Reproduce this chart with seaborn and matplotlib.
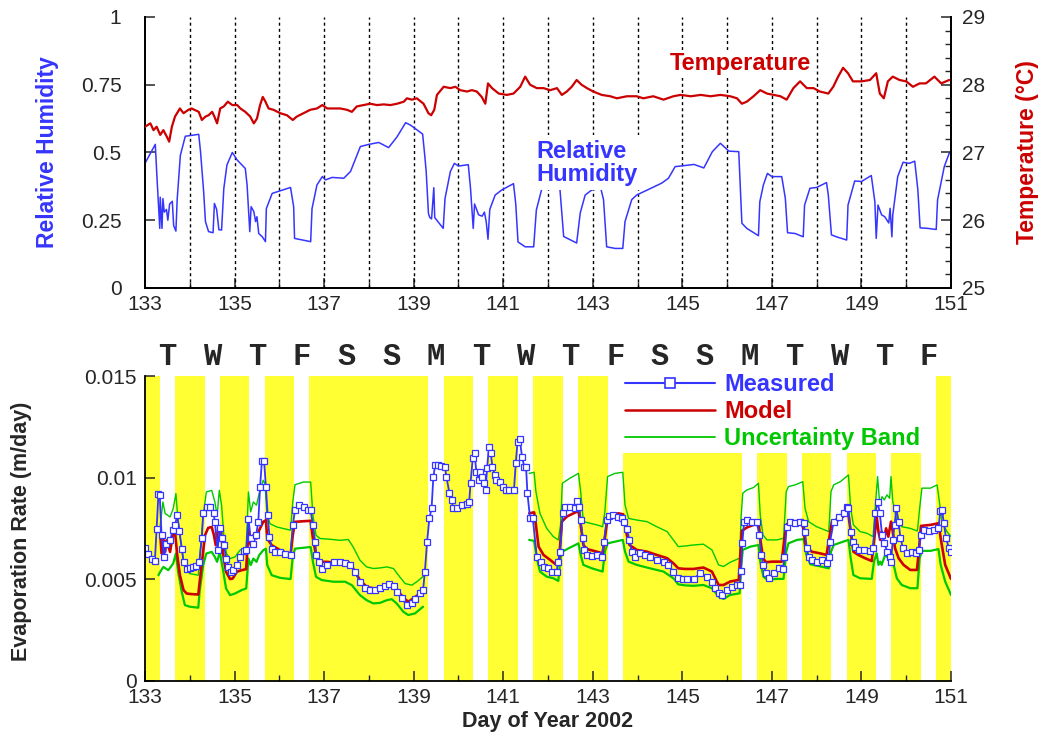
import numpy as np
import pandas as pd
import matplotlib
matplotlib.use("Agg")
import matplotlib.pyplot as plt
import seaborn as sns
from matplotlib.lines import Line2D
from matplotlib.ticker import MultipleLocator, FixedLocator, FixedFormatter

sns.set_style("ticks")
plt.rcParams['font.family'] = ['Liberation Sans', 'DejaVu Sans']

BLUE = '#3535ff'
RED = '#cc0000'
GREEN = '#00c800'
YELLOW = '#ffff33'

# ---------------- data: top panel ----------------
RH_DAY = [133.00, 133.23, 133.27, 133.33, 133.34, 133.38, 133.40, 133.43, 133.48, 133.51, 133.55, 133.61,
          133.64, 133.69, 133.72, 133.79, 133.90, 134.20, 134.24, 134.31, 134.35, 134.42, 134.52, 134.55,
          134.60, 134.65, 134.71, 134.76, 134.83, 134.95, 135.06, 135.24, 135.28, 135.34, 135.37, 135.43,
          135.47, 135.50, 135.54, 135.62, 135.69, 135.71, 135.84, 136.25, 136.32, 136.34, 136.70, 136.73,
          136.84, 136.96, 137.03, 137.18, 137.44, 137.59, 137.81, 138.00, 138.22, 138.44, 138.63, 138.82,
          138.93, 139.20, 139.25, 139.28, 139.33, 139.36, 139.40, 139.45, 139.47, 139.66, 139.70, 139.82,
          139.91, 140.00, 140.22, 140.27, 140.33, 140.36, 140.45, 140.53, 140.58, 140.62, 140.66, 140.70,
          140.82, 140.97, 141.23, 141.28, 141.33, 141.49, 141.68, 141.74, 141.86, 142.00, 142.25, 142.30,
          142.35, 142.64, 142.72, 142.83, 142.98, 143.18, 143.24, 143.31, 143.50, 143.67, 143.72, 143.87,
          143.98, 144.54, 144.69, 144.84, 144.96, 145.26, 145.48, 145.67, 145.85, 146.04, 146.26, 146.30,
          146.33, 146.44, 146.70, 146.73, 146.81, 146.90, 147.00, 147.22, 147.30, 147.35, 147.52, 147.70,
          147.73, 147.85, 148.00, 148.22, 148.26, 148.33, 148.44, 148.67, 148.70, 148.85, 149.00, 149.22,
          149.30, 149.33, 149.37, 149.45, 149.52, 149.61, 149.64, 149.68, 149.70, 149.81, 149.93, 150.07,
          150.19, 150.26, 150.31, 150.48, 150.67, 150.70, 150.85, 150.96, 151.00]
RH_VAL = [0.46, 0.53, 0.40, 0.22, 0.335, 0.22, 0.33, 0.28, 0.29, 0.25, 0.31, 0.32,
          0.23, 0.21, 0.33, 0.49, 0.56, 0.567, 0.503, 0.355, 0.245, 0.208, 0.204, 0.312,
          0.29, 0.215, 0.214, 0.367, 0.454, 0.50, 0.472, 0.441, 0.38, 0.208, 0.30, 0.282,
          0.245, 0.263, 0.201, 0.189, 0.171, 0.293, 0.349, 0.371, 0.30, 0.183, 0.171, 0.293,
          0.38, 0.411, 0.399, 0.408, 0.405, 0.43, 0.522, 0.53, 0.537, 0.518, 0.558, 0.61,
          0.601, 0.568, 0.485, 0.429, 0.275, 0.26, 0.255, 0.37, 0.26, 0.22, 0.33, 0.43,
          0.46, 0.45, 0.455, 0.367, 0.22, 0.31, 0.27, 0.265, 0.28, 0.245, 0.18, 0.29,
          0.343, 0.362, 0.385, 0.31, 0.17, 0.152, 0.152, 0.288, 0.365, 0.385, 0.40, 0.294,
          0.19, 0.166, 0.277, 0.343, 0.362, 0.367, 0.326, 0.152, 0.146, 0.146, 0.245, 0.326,
          0.343, 0.387, 0.405, 0.448, 0.45, 0.456, 0.443, 0.503, 0.534, 0.505, 0.503, 0.356,
          0.239, 0.22, 0.193, 0.318, 0.38, 0.423, 0.411, 0.411, 0.331, 0.204, 0.201, 0.189,
          0.306, 0.368, 0.371, 0.389, 0.343, 0.196, 0.189, 0.177, 0.306, 0.395, 0.393, 0.415,
          0.318, 0.183, 0.306, 0.27, 0.263, 0.24, 0.294, 0.189, 0.27, 0.411, 0.464, 0.46,
          0.468, 0.362, 0.222, 0.22, 0.216, 0.325, 0.448, 0.497, 0.50]

T_DAY = [133.00, 133.12, 133.19, 133.26, 133.34, 133.41, 133.49, 133.54, 133.60, 133.67, 133.78, 133.86,
         133.97, 134.04, 134.20, 134.27, 134.35, 134.42, 134.50, 134.55, 134.61, 134.68, 134.76, 134.85,
         134.95, 135.06, 135.13, 135.24, 135.35, 135.43, 135.50, 135.57, 135.63, 135.69, 135.76, 135.87,
         136.02, 136.17, 136.30, 136.39, 136.54, 136.69, 136.84, 136.96, 137.07, 137.21, 137.36, 137.51,
         137.62, 137.73, 137.88, 138.03, 138.18, 138.33, 138.48, 138.63, 138.78, 138.85, 138.96, 139.07,
         139.22, 139.33, 139.39, 139.46, 139.52, 139.67, 139.82, 139.93, 140.04, 140.19, 140.30, 140.41,
         140.52, 140.60, 140.66, 140.75, 140.90, 141.08, 141.23, 141.38, 141.49, 141.60, 141.75, 141.90,
         142.05, 142.20, 142.31, 142.42, 142.53, 142.64, 142.75, 142.87, 143.01, 143.20, 143.39, 143.54,
         143.76, 143.98, 144.13, 144.35, 144.58, 144.80, 144.96, 145.19, 145.41, 145.63, 145.85, 146.07,
         146.22, 146.33, 146.44, 146.59, 146.74, 146.89, 147.04, 147.19, 147.33, 147.48, 147.63, 147.78,
         147.93, 148.07, 148.26, 148.37, 148.48, 148.59, 148.70, 148.81, 149.00, 149.19, 149.33, 149.41,
         149.50, 149.59, 149.70, 149.85, 150.00, 150.15, 150.30, 150.44, 150.63, 150.78, 150.96]
T_VAL = [27.38, 27.43, 27.33, 27.38, 27.26, 27.33, 27.23, 27.16, 27.38, 27.53, 27.65, 27.58,
         27.63, 27.65, 27.60, 27.48, 27.53, 27.55, 27.60, 27.53, 27.43, 27.65, 27.68, 27.75,
         27.70, 27.70, 27.65, 27.60, 27.53, 27.43, 27.50, 27.70, 27.82, 27.75, 27.65, 27.63,
         27.58, 27.55, 27.48, 27.53, 27.58, 27.63, 27.65, 27.70, 27.65, 27.65, 27.65, 27.63,
         27.60, 27.68, 27.70, 27.72, 27.70, 27.71, 27.70, 27.72, 27.75, 27.80, 27.78, 27.80,
         27.72, 27.58, 27.55, 27.63, 27.85, 27.97, 27.95, 27.97, 27.92, 27.90, 27.92, 27.90,
         27.82, 27.72, 28.02, 27.95, 27.87, 27.85, 27.87, 27.97, 28.12, 28.00, 27.95, 27.95,
         27.92, 27.95, 27.85, 27.90, 27.97, 28.07, 28.00, 27.95, 27.90, 27.85, 27.83, 27.80,
         27.83, 27.83, 27.80, 27.83, 27.78, 27.83, 27.85, 27.83, 27.85, 27.83, 27.85, 27.83,
         27.80, 27.72, 27.75, 27.83, 27.92, 27.87, 27.85, 27.83, 27.78, 27.95, 28.05, 27.95,
         27.95, 27.90, 27.87, 27.97, 28.12, 28.25, 28.17, 28.05, 28.05, 28.07, 28.17, 27.87,
         27.80, 28.05, 28.12, 28.07, 28.05, 27.97, 28.02, 28.02, 28.12, 28.02, 28.07]

DOTTED_DAYS = list(range(134, 151))

# ---------------- data: bottom panel ----------------
MEAS_DAY = [133.00, 133.07, 133.15, 133.22, 133.26, 133.30, 133.33, 133.37, 133.42, 133.48, 133.56, 133.62,
            133.67, 133.72, 133.77, 133.82, 133.86, 133.93, 134.00, 134.08, 134.15, 134.21, 134.27, 134.30,
            134.38, 134.45, 134.53, 134.56, 134.62, 134.67, 134.71, 134.76, 134.82, 134.86, 134.91, 134.97,
            135.05, 135.12, 135.20, 135.26, 135.31, 135.36, 135.42, 135.48, 135.53, 135.57, 135.61, 135.66,
            135.70, 135.74, 135.78, 135.83, 135.90, 136.02, 136.13, 136.25, 136.30, 136.35, 136.43, 136.54,
            136.65, 136.70, 136.75, 136.80, 136.83, 136.89, 136.95, 137.06, 137.21, 137.36, 137.47, 137.58,
            137.69, 137.80, 137.91, 138.03, 138.14, 138.25, 138.36, 138.46, 138.55, 138.62, 138.73, 138.85,
            138.96, 139.03, 139.14, 139.21, 139.25, 139.30, 139.35, 139.40, 139.44, 139.48, 139.55, 139.62,
            139.70, 139.73, 139.80, 139.85, 139.88, 139.96, 140.07, 140.18, 140.24, 140.27, 140.32, 140.36,
            140.40, 140.45, 140.48, 140.52, 140.57, 140.61, 140.64, 140.68, 140.72, 140.76, 140.81, 140.84,
            140.92, 140.99, 141.07, 141.14, 141.24, 141.28, 141.32, 141.37, 141.42, 141.47, 141.51, 141.54,
            141.60, 141.66, 141.75, 141.84, 141.90, 142.01, 142.08, 142.19, 142.23, 142.27, 142.33, 142.38,
            142.49, 142.60, 142.64, 142.70, 142.73, 142.78, 142.81, 142.87, 142.98, 143.09, 143.20, 143.25,
            143.31, 143.37, 143.46, 143.57, 143.65, 143.70, 143.76, 143.82, 143.87, 143.94, 144.06, 144.17,
            144.28, 144.43, 144.58, 144.69, 144.80, 144.91, 145.02, 145.10, 145.25, 145.40, 145.55, 145.66,
            145.73, 145.81, 145.88, 145.99, 146.10, 146.22, 146.28, 146.31, 146.34, 146.38, 146.44, 146.55,
            146.66, 146.72, 146.76, 146.81, 146.87, 146.93, 147.04, 147.15, 147.25, 147.28, 147.33, 147.41,
            147.52, 147.63, 147.71, 147.74, 147.78, 147.82, 147.89, 148.00, 148.12, 148.23, 148.27, 148.30,
            148.38, 148.49, 148.60, 148.68, 148.71, 148.76, 148.81, 148.86, 148.94, 149.05, 149.20, 149.26,
            149.31, 149.36, 149.41, 149.46, 149.51, 149.58, 149.63, 149.66, 149.70, 149.74, 149.78, 149.83,
            149.87, 149.93, 150.02, 150.13, 150.22, 150.28, 150.33, 150.39, 150.50, 150.61, 150.72, 150.76,
            150.80, 150.84, 150.89, 150.95, 151.00]
MEAS_VAL = [0.00656, 0.00628, 0.00603, 0.00590, 0.00751, 0.00923, 0.00915, 0.00718, 0.00611, 0.00677, 0.00693, 0.00743,
            0.00767, 0.00816, 0.00738, 0.00652, 0.00587, 0.00551, 0.00557, 0.00562, 0.00567, 0.00584, 0.00705, 0.00830,
            0.00857, 0.00857, 0.00830, 0.00784, 0.00644, 0.00754, 0.00702, 0.00669, 0.00603, 0.00562, 0.00538, 0.00546,
            0.00570, 0.00611, 0.00639, 0.00644, 0.00800, 0.00702, 0.00677, 0.00718, 0.00784, 0.00956, 0.01082, 0.01082,
            0.00956, 0.00816, 0.00710, 0.00652, 0.00633, 0.00636, 0.00628, 0.00620, 0.00767, 0.00841, 0.00866, 0.00857,
            0.00841, 0.00841, 0.00767, 0.00685, 0.00620, 0.00587, 0.00554, 0.00570, 0.00584, 0.00587, 0.00582, 0.00570,
            0.00538, 0.00489, 0.00456, 0.00448, 0.00448, 0.00456, 0.00467, 0.00480, 0.00469, 0.00440, 0.00407, 0.00374,
            0.00382, 0.00405, 0.00432, 0.00448, 0.00538, 0.00686, 0.00801, 0.00850, 0.01006, 0.01064, 0.01064, 0.01058,
            0.01056, 0.01006, 0.00925, 0.00892, 0.00850, 0.00850, 0.00866, 0.00874, 0.00882, 0.00976, 0.01097, 0.01122,
            0.01031, 0.00990, 0.01031, 0.01006, 0.00974, 0.00941, 0.01048, 0.01155, 0.01122, 0.01056, 0.01015, 0.00990,
            0.00982, 0.00958, 0.00941, 0.00941, 0.00941, 0.01073, 0.01179, 0.01190, 0.01104, 0.01056, 0.01056, 0.00925,
            0.00801, 0.00801, 0.00613, 0.00588, 0.00563, 0.00555, 0.00539, 0.00539, 0.00588, 0.00637, 0.00826, 0.00859,
            0.00859, 0.00854, 0.00887, 0.00859, 0.00793, 0.00703, 0.00646, 0.00621, 0.00618, 0.00621, 0.00613, 0.00687,
            0.00793, 0.00815, 0.00818, 0.00810, 0.00801, 0.00785, 0.00749, 0.00695, 0.00637, 0.00613, 0.00629, 0.00621,
            0.00613, 0.00596, 0.00588, 0.00572, 0.00539, 0.00506, 0.00500, 0.00503, 0.00503, 0.00531, 0.00514, 0.00490,
            0.00457, 0.00432, 0.00424, 0.00449, 0.00465, 0.00473, 0.00473, 0.00542, 0.00679, 0.00785, 0.00793, 0.00785,
            0.00782, 0.00720, 0.00621, 0.00572, 0.00531, 0.00509, 0.00531, 0.00555, 0.00552, 0.00613, 0.00760, 0.00785,
            0.00777, 0.00785, 0.00777, 0.00736, 0.00654, 0.00613, 0.00596, 0.00588, 0.00596, 0.00580, 0.00613, 0.00687,
            0.00785, 0.00810, 0.00826, 0.00859, 0.00851, 0.00736, 0.00687, 0.00662, 0.00646, 0.00646, 0.00641, 0.00654,
            0.00826, 0.00883, 0.00826, 0.00720, 0.00679, 0.00637, 0.00613, 0.00588, 0.00695, 0.00769, 0.00851, 0.00785,
            0.00703, 0.00654, 0.00629, 0.00637, 0.00629, 0.00646, 0.00720, 0.00744, 0.00739, 0.00744, 0.00752, 0.00838,
            0.00842, 0.00777, 0.00703, 0.00657, 0.00637]

MODEL_DAY_1 = [133.34, 133.37, 133.41, 133.45, 133.48, 133.56, 133.62, 133.67, 133.72, 133.78, 133.86, 133.93,
               134.04, 134.19, 134.23, 134.29, 134.34, 134.41, 134.49, 134.54, 134.58, 134.64, 134.70, 134.75,
               134.81, 134.90, 134.96, 135.05, 135.16, 135.26, 135.31, 135.36, 135.42, 135.49, 135.55, 135.64,
               135.70, 135.73, 135.83, 136.02, 136.20, 136.25, 136.30, 136.35, 136.54, 136.70, 136.75, 136.82,
               136.91, 137.06, 137.21, 137.36, 137.54, 137.65, 137.80, 137.95, 138.10, 138.25, 138.40, 138.51,
               138.62, 138.77, 138.88, 138.99, 139.10, 139.21]
MODEL_VAL_1 = [0.00726, 0.00628, 0.00702, 0.00636, 0.00693, 0.00636, 0.00718, 0.00734, 0.00620, 0.00521, 0.00448, 0.00431,
               0.00428, 0.00426, 0.00505, 0.00620, 0.00718, 0.00754, 0.00759, 0.00718, 0.00669, 0.00759, 0.00734, 0.00620,
               0.00538, 0.00502, 0.00505, 0.00538, 0.00546, 0.00551, 0.00743, 0.00669, 0.00718, 0.00702, 0.00743, 0.00784,
               0.00792, 0.00702, 0.00669, 0.00644, 0.00628, 0.00620, 0.00718, 0.00784, 0.00787, 0.00789, 0.00702, 0.00620,
               0.00587, 0.00587, 0.00584, 0.00587, 0.00587, 0.00554, 0.00497, 0.00464, 0.00456, 0.00459, 0.00472, 0.00476,
               0.00453, 0.00410, 0.00390, 0.00407, 0.00425, 0.00432]
MODEL_DAY_2 = [141.58, 141.69, 141.73, 141.79, 141.90, 142.05, 142.19, 142.25, 142.31, 142.42, 142.57, 142.68,
               142.73, 142.79, 142.87, 143.09, 143.22, 143.27, 143.33, 143.42, 143.57, 143.68, 143.76, 143.82,
               143.98, 144.21, 144.43, 144.66, 144.80, 144.91, 145.06, 145.25, 145.47, 145.66, 145.81, 145.92,
               146.07, 146.26, 146.29, 146.33, 146.44, 146.59, 146.70, 146.74, 146.80, 146.87, 147.00, 147.22,
               147.28, 147.33, 147.48, 147.67, 147.72, 147.76, 147.89, 148.07, 148.22, 148.28, 148.34, 148.49,
               148.64, 148.71, 148.76, 148.82, 148.93, 149.08, 149.23, 149.28, 149.34, 149.38, 149.42, 149.45,
               149.51, 149.55, 149.60, 149.66, 149.70, 149.75, 149.83, 149.94, 150.09, 150.24, 150.28, 150.33,
               150.54, 150.72, 150.77, 150.87, 151.00]
MODEL_VAL_2 = [0.00826, 0.00831, 0.00769, 0.00662, 0.00621, 0.00596, 0.00572, 0.00605, 0.00785, 0.00810, 0.00826, 0.00838,
               0.00769, 0.00670, 0.00650, 0.00637, 0.00629, 0.00703, 0.00801, 0.00818, 0.00826, 0.00821, 0.00720, 0.00670,
               0.00646, 0.00637, 0.00621, 0.00605, 0.00580, 0.00555, 0.00552, 0.00552, 0.00559, 0.00539, 0.00473, 0.00473,
               0.00490, 0.00498, 0.00605, 0.00740, 0.00756, 0.00769, 0.00785, 0.00703, 0.00605, 0.00585, 0.00588, 0.00588,
               0.00703, 0.00772, 0.00785, 0.00793, 0.00720, 0.00662, 0.00637, 0.00629, 0.00621, 0.00703, 0.00785, 0.00793,
               0.00818, 0.00818, 0.00736, 0.00637, 0.00621, 0.00605, 0.00591, 0.00687, 0.00810, 0.00736, 0.00695, 0.00736,
               0.00703, 0.00752, 0.00711, 0.00785, 0.00736, 0.00654, 0.00605, 0.00572, 0.00547, 0.00547, 0.00637, 0.00764,
               0.00769, 0.00777, 0.00703, 0.00572, 0.00503]

UPPER_DAY_1 = [133.34, 133.40, 133.45, 133.56, 133.63, 133.69, 133.74, 133.82, 133.89, 134.00, 134.19, 134.22,
               134.30, 134.37, 134.49, 134.56, 134.61, 134.66, 134.71, 134.76, 134.82, 134.90, 135.01, 135.12,
               135.26, 135.31, 135.36, 135.42, 135.49, 135.55, 135.64, 135.68, 135.72, 135.79, 135.94, 136.09,
               136.25, 136.30, 136.35, 136.54, 136.70, 136.75, 136.82, 136.91, 137.14, 137.36, 137.54, 137.65,
               137.80, 137.95, 138.10, 138.25, 138.40, 138.55, 138.66, 138.81, 138.96, 139.07, 139.25]
UPPER_VAL_1 = [0.00767, 0.00882, 0.00825, 0.00808, 0.00849, 0.00923, 0.00784, 0.00652, 0.00562, 0.00529, 0.00521, 0.00603,
               0.00816, 0.00931, 0.00939, 0.00882, 0.00816, 0.00939, 0.00866, 0.00718, 0.00628, 0.00603, 0.00611, 0.00644,
               0.00660, 0.00931, 0.00833, 0.00882, 0.00866, 0.00923, 0.00989, 0.00972, 0.00833, 0.00775, 0.00759, 0.00751,
               0.00743, 0.00882, 0.00967, 0.00980, 0.00980, 0.00816, 0.00718, 0.00702, 0.00698, 0.00693, 0.00697, 0.00660,
               0.00595, 0.00562, 0.00554, 0.00557, 0.00562, 0.00554, 0.00521, 0.00480, 0.00472, 0.00489, 0.00522]
UPPER_DAY_2 = [141.58, 141.69, 141.73, 141.82, 141.97, 142.12, 142.23, 142.28, 142.32, 142.49, 142.68, 142.73,
               142.79, 142.94, 143.09, 143.22, 143.27, 143.33, 143.50, 143.67, 143.72, 143.80, 143.98, 144.21,
               144.43, 144.66, 144.80, 144.91, 145.06, 145.25, 145.47, 145.66, 145.81, 145.92, 146.07, 146.28,
               146.31, 146.35, 146.44, 146.59, 146.70, 146.74, 146.80, 146.89, 147.11, 147.26, 147.32, 147.37,
               147.52, 147.69, 147.74, 147.82, 148.00, 148.27, 148.32, 148.38, 148.53, 148.71, 148.76, 148.82,
               148.97, 149.12, 149.26, 149.31, 149.36, 149.41, 149.46, 149.51, 149.57, 149.63, 149.66, 149.70,
               149.78, 149.90, 150.09, 150.25, 150.30, 150.35, 150.54, 150.69, 150.75, 150.80, 150.91, 151.00]
UPPER_VAL_2 = [0.01023, 0.01028, 0.00933, 0.00826, 0.00752, 0.00711, 0.00695, 0.00769, 0.00974, 0.00999, 0.01023, 0.00933,
               0.00785, 0.00777, 0.00769, 0.00760, 0.00834, 0.01007, 0.01023, 0.01028, 0.00867, 0.00801, 0.00793, 0.00785,
               0.00760, 0.00736, 0.00695, 0.00662, 0.00665, 0.00670, 0.00674, 0.00646, 0.00572, 0.00564, 0.00585, 0.00605,
               0.00801, 0.00925, 0.00941, 0.00953, 0.00974, 0.00818, 0.00720, 0.00695, 0.00695, 0.00703, 0.00933, 0.00958,
               0.00966, 0.00982, 0.00851, 0.00785, 0.00760, 0.00736, 0.00933, 0.00966, 0.00982, 0.01015, 0.00851, 0.00769,
               0.00736, 0.00728, 0.00711, 0.00859, 0.01007, 0.00867, 0.00908, 0.00892, 0.00917, 0.00900, 0.01007, 0.00884,
               0.00801, 0.00760, 0.00752, 0.00739, 0.00851, 0.00950, 0.00950, 0.00966, 0.00867, 0.00785, 0.00736, 0.00711]

LOWER_DAY_1 = [133.30, 133.34, 133.41, 133.52, 133.63, 133.69, 133.74, 133.82, 133.89, 134.00, 134.19, 134.22,
               134.30, 134.37, 134.49, 134.56, 134.61, 134.67, 134.75, 134.81, 134.90, 135.01, 135.16, 135.26,
               135.31, 135.36, 135.42, 135.49, 135.55, 135.64, 135.70, 135.73, 135.83, 136.02, 136.25, 136.30,
               136.35, 136.70, 136.75, 136.82, 136.95, 137.21, 137.47, 137.62, 137.80, 137.95, 138.10, 138.25,
               138.40, 138.51, 138.62, 138.77, 138.88, 139.03, 139.21]
LOWER_VAL_1 = [0.00521, 0.00538, 0.00562, 0.00546, 0.00579, 0.00628, 0.00538, 0.00440, 0.00374, 0.00366, 0.00361, 0.00440,
               0.00571, 0.00628, 0.00636, 0.00611, 0.00587, 0.00636, 0.00538, 0.00456, 0.00423, 0.00431, 0.00448, 0.00456,
               0.00603, 0.00571, 0.00603, 0.00587, 0.00620, 0.00644, 0.00652, 0.00571, 0.00521, 0.00508, 0.00502, 0.00611,
               0.00652, 0.00660, 0.00587, 0.00513, 0.00497, 0.00489, 0.00489, 0.00472, 0.00423, 0.00398, 0.00382, 0.00385,
               0.00398, 0.00403, 0.00382, 0.00341, 0.00325, 0.00333, 0.00366]
LOWER_DAY_2 = [141.58, 141.69, 141.75, 141.82, 141.97, 142.12, 142.23, 142.28, 142.32, 142.49, 142.68, 142.73,
               142.79, 142.98, 143.22, 143.27, 143.33, 143.67, 143.72, 143.80, 143.98, 144.28, 144.58, 144.80,
               144.91, 145.06, 145.25, 145.47, 145.66, 145.81, 145.92, 146.07, 146.28, 146.31, 146.35, 146.52,
               146.70, 146.74, 146.81, 146.90, 147.11, 147.26, 147.32, 147.37, 147.56, 147.71, 147.77, 147.86,
               148.09, 148.27, 148.32, 148.38, 148.60, 148.71, 148.76, 148.82, 148.97, 149.23, 149.28, 149.34,
               149.38, 149.42, 149.45, 149.53, 149.60, 149.66, 149.72, 149.79, 149.90, 150.09, 150.25, 150.30,
               150.35, 150.54, 150.72, 150.77, 150.87, 151.00]
LOWER_VAL_2 = [0.00695, 0.00690, 0.00605, 0.00539, 0.00514, 0.00506, 0.00493, 0.00605, 0.00637, 0.00657, 0.00678, 0.00621,
               0.00572, 0.00555, 0.00539, 0.00637, 0.00678, 0.00695, 0.00637, 0.00588, 0.00572, 0.00555, 0.00539, 0.00506,
               0.00476, 0.00471, 0.00469, 0.00473, 0.00457, 0.00416, 0.00404, 0.00424, 0.00432, 0.00555, 0.00646, 0.00662,
               0.00670, 0.00588, 0.00514, 0.00498, 0.00503, 0.00503, 0.00637, 0.00678, 0.00695, 0.00699, 0.00621, 0.00575,
               0.00564, 0.00555, 0.00637, 0.00670, 0.00687, 0.00695, 0.00605, 0.00522, 0.00506, 0.00503, 0.00588, 0.00629,
               0.00572, 0.00588, 0.00572, 0.00621, 0.00605, 0.00637, 0.00572, 0.00506, 0.00473, 0.00457, 0.00457, 0.00605,
               0.00641, 0.00641, 0.00650, 0.00572, 0.00490, 0.00424]

BAND_START = [133.0, 133.67, 134.67, 135.67, 136.67, 139.67, 140.67, 141.67, 142.67, 143.67,
              146.67, 147.67, 148.67, 149.67, 150.67]
BAND_END = [133.33, 134.33, 135.33, 136.33, 139.33, 140.33, 141.33, 142.33, 143.33, 146.33,
            147.33, 148.33, 149.33, 150.33, 151.0]
BAND_TOP = [0.015, 0.015, 0.015, 0.015, 0.015, 0.015, 0.015, 0.015, 0.015, 0.01125,
            0.01125, 0.01125, 0.01125, 0.01125, 0.015]

DAY_LETTERS = ['T', 'W', 'T', 'F', 'S', 'S', 'M', 'T', 'W', 'T', 'F', 'S', 'S', 'M', 'T', 'W', 'T', 'F']
LEGEND_LABELS = ['Measured', 'Model', 'Uncertainty Band']

X_MAJOR = list(range(133, 152, 2))
X_MINOR = list(range(134, 151, 2))


def seg_frame(days_list, vals_list):
    rows = []
    for k, (d, v) in enumerate(zip(days_list, vals_list)):
        rows.append(pd.DataFrame({'day': d, 'val': v, 'seg': k}))
    return pd.concat(rows, ignore_index=True)


fig = plt.figure(figsize=(10.43, 7.38), dpi=100)
fig.patch.set_facecolor('white')
ax1 = fig.add_axes([0.13902, 0.60976, 0.77277, 0.36721])
ax2 = fig.add_axes([0.13902, 0.07724, 0.77277, 0.41260])

TICK_FS = 15
LW_SPINE = 1.3

# ---------------- top panel ----------------
ax1.set_xlim(133, 151)
ax1.set_ylim(0, 1)
for d in DOTTED_DAYS:
    ax1.axvline(d, color='black', ls=(0, (2.2, 2.2)), lw=1.0, zorder=1)
sns.lineplot(x=RH_DAY, y=RH_VAL, ax=ax1, color=BLUE, lw=1.1, estimator=None, sort=False, zorder=3)
ax1.set_xlabel('')
ax1.set_ylabel('Relative Humidity', color=BLUE, fontsize=16.5, fontweight='bold')
ax1.yaxis.set_label_coords(-0.107, 0.5)
ax1.set_yticks([0, 0.25, 0.5, 0.75, 1])
ax1.set_yticklabels(['0', '0.25', '0.5', '0.75', '1'])
ax1.xaxis.set_major_locator(FixedLocator(X_MAJOR))
ax1.xaxis.set_minor_locator(FixedLocator(X_MINOR))
ax1.set_xticklabels([str(v) for v in X_MAJOR])
ax1.tick_params(axis='both', which='major', direction='in', length=7, width=1.1, labelsize=TICK_FS)
ax1.tick_params(axis='x', which='minor', direction='in', length=4, width=1.0)
ax1.tick_params(axis='y', which='major', pad=17)
ax1.tick_params(axis='x', which='major', pad=5)
for s in ['top']:
    ax1.spines[s].set_visible(False)
for s in ['left', 'bottom', 'right']:
    ax1.spines[s].set_linewidth(LW_SPINE)
    ax1.spines[s].set_color('black')

ax1.text(144.72, 0.827, 'Temperature', color=RED, fontsize=17, fontweight='bold', ha='left', va='center',
         zorder=6, bbox=dict(facecolor='white', edgecolor='none', pad=2))
ax1.text(141.75, 0.463, 'Relative\nHumidity', color=BLUE, fontsize=17, fontweight='bold', ha='left',
         va='center', linespacing=1.0, zorder=6, bbox=dict(facecolor='white', edgecolor='none', pad=3))

ax1b = ax1.twinx()
ax1b.set_ylim(25, 29)
sns.lineplot(x=T_DAY, y=T_VAL, ax=ax1b, color=RED, lw=1.6, estimator=None, sort=False, zorder=3)
ax1b.set_xlim(133, 151)
ax1b.set_xlabel('')
ax1b.set_ylabel('Temperature (\u00b0C)', color=RED, fontsize=16.5, fontweight='bold', rotation=90)
ax1b.yaxis.set_label_coords(1.081, 0.5)
ax1b.set_yticks([25, 26, 27, 28, 29])
ax1b.set_yticklabels(['25', '26', '27', '28', '29'])
ax1b.yaxis.set_minor_locator(MultipleLocator(0.2))
ax1b.tick_params(axis='y', which='major', direction='in', length=7, width=1.1, labelsize=TICK_FS, pad=8)
ax1b.tick_params(axis='y', which='minor', direction='in', length=4, width=1.0)
ax1b.spines['top'].set_visible(False)
for s in ['left', 'bottom', 'right']:
    ax1b.spines[s].set_linewidth(LW_SPINE)
    ax1b.spines[s].set_color('black')

# ---------------- bottom panel ----------------
ax2.set_xlim(133, 151)
ax2.set_ylim(0, 0.015)
for s0, e0, top in zip(BAND_START, BAND_END, BAND_TOP):
    ax2.axvspan(s0, e0, ymin=0, ymax=top / 0.015, color=YELLOW, lw=0, zorder=0)

up_df = seg_frame([UPPER_DAY_1, UPPER_DAY_2], [UPPER_VAL_1, UPPER_VAL_2])
lo_df = seg_frame([LOWER_DAY_1, LOWER_DAY_2], [LOWER_VAL_1, LOWER_VAL_2])
mo_df = seg_frame([MODEL_DAY_1, MODEL_DAY_2], [MODEL_VAL_1, MODEL_VAL_2])
sns.lineplot(data=up_df, x='day', y='val', units='seg', estimator=None, sort=False, ax=ax2,
             color=GREEN, lw=1.0, zorder=2)
sns.lineplot(data=lo_df, x='day', y='val', units='seg', estimator=None, sort=False, ax=ax2,
             color=GREEN, lw=1.6, zorder=2)
sns.lineplot(data=mo_df, x='day', y='val', units='seg', estimator=None, sort=False, ax=ax2,
             color=RED, lw=1.9, zorder=3)
sns.lineplot(x=MEAS_DAY, y=MEAS_VAL, ax=ax2, estimator=None, sort=False, color=BLUE, lw=1.3,
             marker='s', markersize=4, markerfacecolor='white', markeredgecolor=BLUE,
             markeredgewidth=0.9, zorder=4)

ax2.set_xlabel('Day of Year 2002', fontsize=15.5, fontweight='bold')
ax2.xaxis.set_label_coords(0.5, -0.1)
ax2.set_ylabel('Evaporation Rate (m/day)', fontsize=15.5, fontweight='bold')
ax2.yaxis.set_label_coords(-0.140, 0.49)
ax2.xaxis.set_major_locator(FixedLocator(X_MAJOR))
ax2.xaxis.set_minor_locator(FixedLocator(X_MINOR))
ax2.set_xticklabels([str(v) for v in X_MAJOR])
ax2.set_yticks([0, 0.005, 0.01, 0.015])
ax2.set_yticklabels(['0', '0.005', '0.01', '0.015'])
ax2.tick_params(axis='both', which='major', direction='in', length=7, width=1.1, labelsize=TICK_FS)
ax2.tick_params(axis='x', which='minor', direction='in', length=4, width=1.0)
ax2.tick_params(axis='y', which='major', pad=6)
ax2.tick_params(axis='x', which='major', pad=5)
for s in ['top', 'right']:
    ax2.spines[s].set_visible(False)
for s in ['left', 'bottom']:
    ax2.spines[s].set_linewidth(LW_SPINE)
    ax2.spines[s].set_color('black')
    ax2.spines[s].set_zorder(5)

xt = ax2.get_xaxis_transform()
for i, L in enumerate(DAY_LETTERS):
    ax2.text(133.5 + i, 1.065, L, transform=xt, ha='center', va='center', fontsize=22,
             fontweight='bold', family=['Liberation Mono', 'DejaVu Sans Mono'], clip_on=False)

handles = [
    Line2D([], [], color=BLUE, lw=1.5, marker='s', markersize=7, markerfacecolor='white',
           markeredgecolor=BLUE, markeredgewidth=1.2),
    Line2D([], [], color=RED, lw=1.8),
    Line2D([], [], color=GREEN, lw=1.3),
]
leg = ax2.legend(handles, LEGEND_LABELS, loc='upper left', bbox_to_anchor=(0.5955, 1.012), frameon=False,
                 prop={'size': 17, 'weight': 'bold'}, handlelength=3.8, handletextpad=0.4,
                 labelspacing=0.18, borderpad=0, borderaxespad=0, numpoints=1)
for t, c in zip(leg.get_texts(), [BLUE, RED, GREEN]):
    t.set_color(c)

fig.savefig('out.png', dpi=100, facecolor='white')
